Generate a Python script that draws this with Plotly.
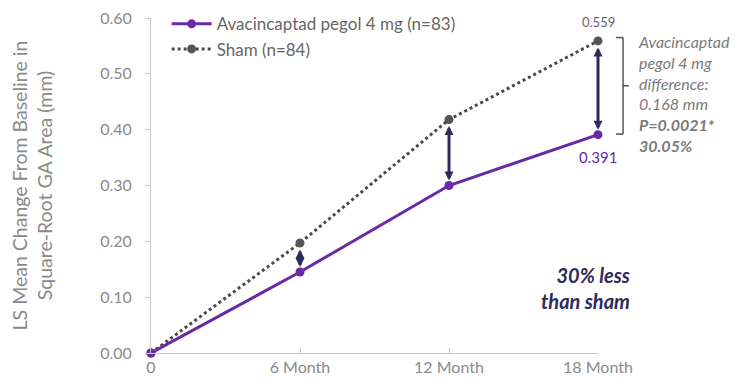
import plotly.graph_objects as go

months = [0, 6, 12, 18]
tick_labels = ["0", "6 Month", "12 Month", "18 Month"]
y_ticks = [0.0, 0.1, 0.2, 0.3, 0.4, 0.5, 0.6]
avac = [0.0, 0.145, 0.300, 0.391]
sham = [0.0, 0.197, 0.418, 0.559]
avac_name = "Avacincaptad pegol 4 mg (n=83)"
sham_name = "Sham (n=84)"

PURPLE = "#6a2aa8"
SHAM_C = "#4a4a4a"
NAVY = "#2e2a5c"
GRAY = "#8a8a8a"
FONT = "Lato, 'Open Sans', sans-serif"

fig = go.Figure()
fig.add_trace(go.Scatter(x=months, y=sham, name=sham_name, mode="lines+markers",
                         line=dict(color=SHAM_C, width=3, dash="dot"),
                         marker=dict(color="#555555", size=9)))
fig.add_trace(go.Scatter(x=months, y=avac, name=avac_name, mode="lines+markers",
                         line=dict(color=PURPLE, width=3),
                         marker=dict(color=PURPLE, size=9)))

# double-headed arrows between series
for m, a, s in zip(months[1:], avac[1:], sham[1:]):
    fig.add_annotation(x=m, y=a, ax=m, ay=s, xref="x", yref="y", axref="x", ayref="y",
                       text="", showarrow=True, arrowhead=2, arrowsize=0.6, arrowwidth=3,
                       arrowcolor=NAVY, arrowside="end+start", standoff=5, startstandoff=5)

# value labels
fig.add_annotation(x=18, y=sham[3], text=f"{sham[3]:.3f}", showarrow=False, yshift=19,
                   font=dict(family=FONT, size=13, color="#666666"))
fig.add_annotation(x=18, y=avac[3], text=f"{avac[3]:.3f}", showarrow=False, yshift=-22,
                   font=dict(family=FONT, size=15, color=PURPLE))

# bracket
bx0, bx1, bx2 = 1.040, 1.056, 1.069
ytop, ybot = 0.565, 0.392
ymid = (ytop + ybot) / 2
for x0, y0, x1, y1 in [(bx0, ytop, bx1, ytop), (bx1, ytop, bx1, ybot),
                       (bx0, ybot, bx1, ybot), (bx1, ymid, bx2, ymid)]:
    fig.add_shape(type="line", xref="paper", yref="y", x0=x0, y0=y0, x1=x1, y1=y1,
                  line=dict(color="#555555", width=1.5))

fig.add_annotation(xref="paper", yref="y", x=1.085, y=0.578, xanchor="left", yanchor="top",
                   align="left", showarrow=False,
                   text="<i>Avacincaptad<br>pegol 4 mg<br>difference:<br>0.168 mm<br>"
                        "<b>P=0.0021*</b><br><b>30.05%</b></i>",
                   font=dict(family=FONT, size=16, color="#7a7a7a"))

fig.add_annotation(xref="paper", yref="y", x=1.075, y=0.116, xanchor="right", yanchor="middle",
                   align="right", showarrow=False,
                   text="<b><i>30% less<br>than sham</i></b>",
                   font=dict(family=FONT, size=20, color=NAVY))

fig.update_layout(
    width=753, height=382, plot_bgcolor="white", paper_bgcolor="white",
    margin=dict(l=143, r=163, t=10, b=37, autoexpand=False),
    font=dict(family=FONT, color=GRAY),
    legend=dict(x=0.035, y=1.035, xanchor="left", yanchor="top", traceorder="reversed",
                font=dict(size=17, color="#666666"), bgcolor="rgba(0,0,0,0)",
                itemwidth=40, tracegroupgap=0),
    showlegend=True,
)
fig.update_xaxes(range=[0, 18], tickvals=months, ticktext=tick_labels, showgrid=False,
                 zeroline=False, showline=True, linecolor="#c8c8c8", linewidth=1,
                 ticks="inside", ticklen=5, tickcolor="#c8c8c8", automargin=False,
                 ticklabeloverflow="allow",
                 tickfont=dict(size=16, color=GRAY), fixedrange=True)
fig.update_yaxes(range=[0, 0.6], tickvals=y_ticks, ticktext=[f"{v:.2f}" for v in y_ticks],
                 showgrid=False, zeroline=False,
                 showline=True, linecolor="#c8c8c8", linewidth=1, ticks="outside", automargin=False,
                 ticklen=5, tickcolor="#c8c8c8", tickfont=dict(size=16, color=GRAY),
                 ticklabelstandoff=10, ticklabeloverflow="allow",
                 title=dict(text="LS Mean Change From Baseline in<br>Square-Root GA Area (mm)",
                            font=dict(size=19.5, color=GRAY), standoff=42))
fig.update_traces(cliponaxis=False)

fig.write_html("out.html")
